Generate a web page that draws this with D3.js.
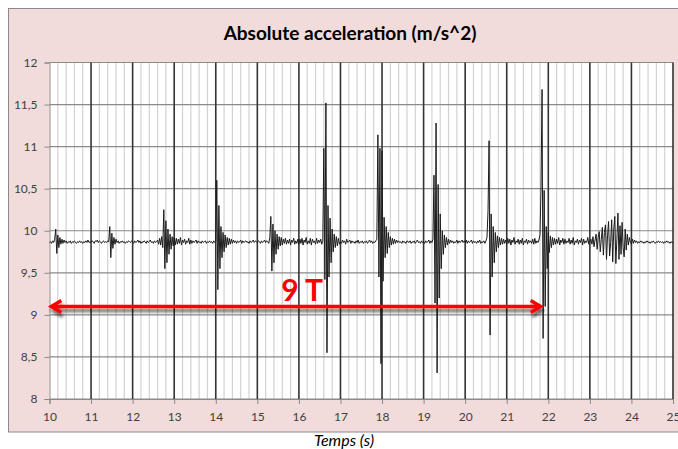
<!DOCTYPE html>
<html>
<head>
<meta charset="utf-8">
<script src="https://cdn.jsdelivr.net/npm/d3@7"></script>
<style>
  body { margin: 0; background: #fff; }
  svg { display: block; font-family: Lato, "Open Sans", sans-serif; }
</style>
</head>
<body>
<div id="chart"></div>
<script>
const chartTitle = "Absolute acceleration (m/s^2)";
const xTitle = "Temps (s)";
const xTicks = [10, 11, 12, 13, 14, 15, 16, 17, 18, 19, 20, 21, 22, 23, 24, 25];
const yTicks = [8, 8.5, 9, 9.5, 10, 10.5, 11, 11.5, 12];

// sampled signal, one value every 0.025 s starting at 10 s
const tStart = 10;
const tStep = 0.025;
const accel = [
  // 10 s
  9.86, 9.87, 9.85, 9.88, 9.86, 9.90, 10.02, 9.73, 9.95, 9.80,
  9.92, 9.84, 9.90, 9.85, 9.89, 9.86, 9.88, 9.85, 9.87, 9.86,
  9.88, 9.85, 9.87, 9.86, 9.88, 9.86, 9.85, 9.87, 9.86, 9.88,
  9.86, 9.87, 9.85, 9.87, 9.86, 9.88, 9.86, 9.89, 9.86, 9.87,
  // 11 s
  9.86, 9.88, 9.87, 9.85, 9.88, 9.87, 9.89, 9.86, 9.88, 9.87,
  9.85, 9.87, 9.88, 9.86, 9.87, 9.86, 9.88, 9.87, 10.05, 9.68,
  9.97, 9.79, 9.92, 9.84, 9.90, 9.86, 9.88, 9.85, 9.87, 9.86,
  9.88, 9.86, 9.87, 9.85, 9.87, 9.86, 9.88, 9.87, 9.86, 9.88,
  // 12 s
  9.87, 9.85, 9.88, 9.86, 9.87, 9.89, 9.86, 9.88, 9.85, 9.87,
  9.86, 9.88, 9.87, 9.85, 9.88, 9.86, 9.87, 9.89, 9.86, 9.87,
  9.85, 9.88, 9.86, 9.87, 9.89, 9.84, 9.91, 9.83, 9.93, 9.80,
  10.25, 9.55, 10.12, 9.62, 10.02, 9.72, 9.96, 9.78, 9.93, 9.82,
  // 13 s
  9.92, 9.83, 9.91, 9.84, 9.90, 9.85, 9.92, 9.83, 9.89, 9.86,
  9.90, 9.84, 9.88, 9.86, 9.91, 9.84, 9.89, 9.85, 9.88, 9.86,
  9.87, 9.89, 9.85, 9.88, 9.86, 9.87, 9.85, 9.88, 9.86, 9.87,
  9.88, 9.85, 9.87, 9.86, 9.88, 9.86, 9.87, 9.85, 9.88, 9.86,
  // 14 s
  9.87, 10.60, 9.30, 10.30, 9.55, 10.05, 9.68, 9.98, 9.75, 9.95,
  9.80, 9.92, 9.83, 9.91, 9.84, 9.90, 9.85, 9.89, 9.86, 9.88,
  9.85, 9.88, 9.86, 9.87, 9.89, 9.85, 9.88, 9.86, 9.87, 9.88,
  9.86, 9.87, 9.85, 9.88, 9.86, 9.87, 9.89, 9.86, 9.88, 9.87,
  // 15 s
  9.86, 9.88, 9.87, 9.85, 9.88, 9.86, 9.87, 9.89, 9.86, 9.88,
  9.87, 9.85, 9.92, 10.17, 9.52, 10.08, 9.62, 10.00, 9.72, 9.96,
  9.78, 9.93, 9.82, 9.92, 9.83, 9.90, 9.85, 9.91, 9.84, 9.89,
  9.85, 9.90, 9.83, 9.89, 9.86, 9.91, 9.84, 9.88, 9.85, 9.90,
  // 16 s
  9.84, 9.90, 9.85, 9.91, 9.83, 9.89, 9.86, 9.92, 9.84, 9.88,
  9.85, 9.91, 9.83, 9.90, 9.86, 9.88, 9.84, 9.91, 9.85, 9.89,
  9.86, 9.90, 9.84, 9.88, 10.98, 9.42, 11.52, 8.55, 10.30, 9.45,
  10.15, 9.62, 10.02, 9.75, 9.96, 9.80, 9.93, 9.82, 9.91, 9.84,
  // 17 s
  9.87, 9.85, 9.89, 9.86, 9.88, 9.84, 9.90, 9.86, 9.87, 9.89,
  9.85, 9.88, 9.86, 9.87, 9.85, 9.88, 9.86, 9.89, 9.85, 9.87,
  9.86, 9.88, 9.85, 9.87, 9.86, 9.88, 9.85, 9.87, 9.89, 9.86,
  9.88, 9.85, 9.87, 9.86, 9.88, 9.90, 11.14, 9.45, 10.98, 8.42,
  // 18 s
  10.95, 9.40, 10.16, 9.68, 10.05, 9.73, 9.98, 9.80, 9.93, 9.83,
  9.91, 9.84, 9.90, 9.85, 9.89, 9.86, 9.88, 9.86, 9.87, 9.85,
  9.88, 9.86, 9.87, 9.85, 9.88, 9.87, 9.86, 9.88, 9.85, 9.87,
  9.86, 9.88, 9.85, 9.87, 9.89, 9.86, 9.87, 9.85, 9.88, 9.86,
  // 19 s
  9.87, 9.85, 9.88, 9.86, 9.87, 9.89, 9.85, 9.88, 9.86, 9.90,
  10.66, 9.14, 11.28, 8.31, 10.55, 9.20, 10.20, 9.55, 10.00, 9.72,
  9.95, 9.80, 9.92, 9.83, 9.90, 9.85, 9.89, 9.86, 9.88, 9.85,
  9.87, 9.86, 9.89, 9.85, 9.88, 9.86, 9.87, 9.89, 9.86, 9.88,
  // 20 s
  9.86, 9.89, 9.85, 9.88, 9.86, 9.87, 9.89, 9.85, 9.88, 9.86,
  9.87, 9.85, 9.88, 9.86, 9.89, 9.85, 9.87, 9.86, 9.88, 9.85,
  9.88, 9.92, 10.24, 11.07, 8.76, 10.20, 9.45, 10.05, 9.62, 9.98,
  9.75, 9.94, 9.80, 9.92, 9.83, 9.91, 9.84, 9.90, 9.85, 9.89,
  // 21 s
  9.84, 9.91, 9.85, 9.90, 9.83, 9.89, 9.86, 9.92, 9.84, 9.88,
  9.86, 9.90, 9.84, 9.89, 9.85, 9.91, 9.83, 9.88, 9.86, 9.90,
  9.84, 9.89, 9.86, 9.88, 9.85, 9.90, 9.84, 9.91, 9.85, 9.88,
  9.86, 9.89, 9.95, 10.52, 11.68, 8.72, 10.48, 9.10, 10.05, 9.55,
  // 22 s
  9.98, 9.74, 9.94, 9.80, 9.92, 9.83, 9.91, 9.84, 9.90, 9.85,
  9.92, 9.83, 9.89, 9.86, 9.91, 9.84, 9.90, 9.85, 9.88, 9.86,
  9.91, 9.84, 9.89, 9.85, 9.92, 9.83, 9.88, 9.86, 9.90, 9.84,
  9.89, 9.86, 9.91, 9.83, 9.90, 9.85, 9.88, 9.86, 9.92, 9.84,
  // 23 s
  9.87, 9.90, 9.84, 9.93, 9.81, 9.89, 9.96, 9.78, 9.92, 9.99,
  9.75, 9.90, 10.04, 9.71, 9.98, 10.07, 9.66, 9.94, 10.11, 9.70,
  9.86, 10.13, 9.63, 10.02, 10.17, 9.61, 9.90, 10.21, 9.66, 10.06,
  9.72, 10.10, 9.80, 9.69, 10.02, 9.77, 9.96, 9.83, 9.92, 9.86,
  // 24 s
  9.84, 9.90, 9.85, 9.89, 9.86, 9.88, 9.85, 9.87, 9.86, 9.88,
  9.86, 9.87, 9.85, 9.87, 9.86, 9.88, 9.86, 9.87, 9.85, 9.87,
  9.86, 9.88, 9.86, 9.85, 9.87, 9.86, 9.88, 9.86, 9.87, 9.86,
  9.87, 9.85, 9.87, 9.86, 9.88, 9.86, 9.87, 9.85, 9.87, 9.86,
  // 25 s
  9.86
];

// red "9 T" annotation
const periodFrom = 10.02;
const periodTo = 21.84;
const periodLevel = 9.1;
const periodLabel = "9 T";
const periodLabelAt = 16.08;

const W = 678, H = 449;
const svg = d3.select("#chart").append("svg")
  .attr("width", W)
  .attr("height", H);

const x = d3.scaleLinear().domain([10, 25]).range([49.5, 673]);
const y = d3.scaleLinear().domain([8, 12]).range([399, 62.5]);

// outer chart box
svg.append("rect")
  .attr("x", 8.5).attr("y", 8.5)
  .attr("width", 690).attr("height", 423.5)
  .attr("fill", "#F2DCDB")
  .attr("stroke", "#8a8a8a");

svg.append("text")
  .attr("x", 350).attr("y", 40)
  .attr("text-anchor", "middle")
  .attr("font-size", 19)
  .attr("font-weight", "bold")
  .attr("fill", "#000")
  .text(chartTitle);

// plot area
svg.append("rect")
  .attr("x", x(10)).attr("y", y(12))
  .attr("width", x(25) - x(10)).attr("height", y(8) - y(12))
  .attr("fill", "#fff");

const minor = d3.range(10, 25.001, 0.2).filter(v => Math.abs(v - Math.round(v)) > 1e-6);

svg.append("g").selectAll("line").data(minor).join("line")
  .attr("x1", d => x(d)).attr("x2", d => x(d))
  .attr("y1", y(12)).attr("y2", y(8))
  .attr("stroke", "#d2d2d2")
  .attr("stroke-width", 1.2);

svg.append("g").selectAll("line").data(yTicks).join("line")
  .attr("x1", x(10)).attr("x2", x(25))
  .attr("y1", d => y(d)).attr("y2", d => y(d))
  .attr("stroke", "#8a8a8a")
  .attr("stroke-width", 1.2);

svg.append("g").selectAll("line").data(xTicks.slice(1)).join("line")
  .attr("x1", d => x(d)).attr("x2", d => x(d))
  .attr("y1", y(12)).attr("y2", y(8))
  .attr("stroke", "#333")
  .attr("stroke-width", 1.6);

// axes
const fmt = d => String(d).replace(".", ",");

const yAxis = svg.append("g")
  .attr("transform", `translate(${x(10)},0)`)
  .call(d3.axisLeft(y).tickValues(yTicks).tickFormat(fmt).tickSize(5).tickPadding(7));

const xAxis = svg.append("g")
  .attr("transform", `translate(0,${y(8)})`)
  .call(d3.axisBottom(x).tickValues(xTicks).tickFormat(fmt).tickSize(5).tickPadding(8.5));

[yAxis, xAxis].forEach(a => {
  a.select(".domain").attr("stroke", "#8a8a8a");
  a.selectAll(".tick line").attr("stroke", "#8a8a8a");
  a.selectAll("text")
    .attr("fill", "#404040")
    .attr("font-size", 12)
    .attr("font-family", "Lato, sans-serif");
});

// signal
const line = d3.line()
  .x((d, i) => x(tStart + i * tStep))
  .y(d => y(d));

svg.append("path")
  .datum(accel)
  .attr("fill", "none")
  .attr("stroke", "#1c1c1c")
  .attr("stroke-width", 1)
  .attr("stroke-linejoin", "round")
  .attr("d", line);

// annotation arrow with drop shadow
const defs = svg.append("defs");
defs.append("filter")
  .attr("id", "shadow")
  .attr("x", "-5%").attr("y", "-200%")
  .attr("width", "110%").attr("height", "500%")
  .append("feDropShadow")
  .attr("dx", 1.5).attr("dy", 4)
  .attr("stdDeviation", 1.8)
  .attr("flood-color", "#000")
  .attr("flood-opacity", 0.55);

const ay = y(periodLevel);
const x0 = x(periodFrom), x1 = x(periodTo);
const arrow = svg.append("g")
  .attr("filter", "url(#shadow)")
  .attr("fill", "none")
  .attr("stroke", "#ff0000")
  .attr("stroke-width", 3.5);

arrow.append("line")
  .attr("x1", x0 + 1).attr("x2", x1 - 1)
  .attr("y1", ay).attr("y2", ay);

arrow.append("path")
  .attr("stroke-linejoin", "miter")
  .attr("d", `M${x0 + 11},${ay - 6}L${x0 + 1},${ay}L${x0 + 11},${ay + 6}`);

arrow.append("path")
  .attr("stroke-linejoin", "miter")
  .attr("d", `M${x1 - 11},${ay - 6}L${x1 - 1},${ay}L${x1 - 11},${ay + 6}`);

svg.append("text")
  .attr("x", x(periodLabelAt)).attr("y", ay - 5)
  .attr("text-anchor", "middle")
  .attr("font-size", 30)
  .attr("font-weight", "bold")
  .attr("fill", "#ff0000")
  .text(periodLabel);

svg.append("text")
  .attr("x", 344).attr("y", 446)
  .attr("text-anchor", "middle")
  .attr("font-size", 16)
  .attr("font-style", "italic")
  .attr("fill", "#000")
  .text(xTitle);
</script>
</body>
</html>
